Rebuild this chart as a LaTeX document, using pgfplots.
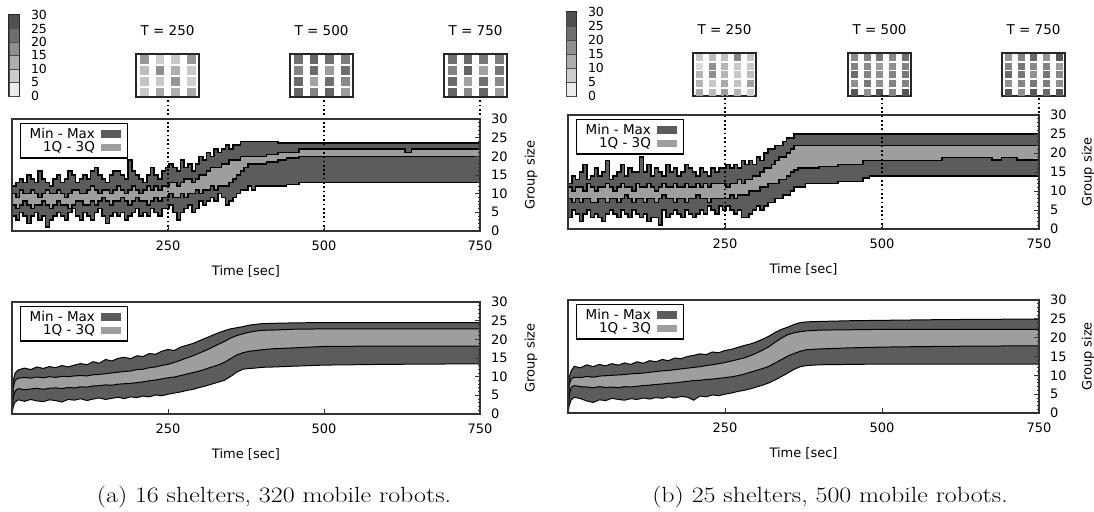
\documentclass[border=0pt]{standalone}
\usepackage{fontspec}
\usepackage{pgfplots}
\pgfplotsset{compat=1.18}
\usepackage{pgfplotstable}
\newfontfamily\dv{DejaVu Sans}
\definecolor{darkband}{gray}{0.36}
\definecolor{lightband}{gray}{0.62}

\pgfplotstableread{
t mn q1 q3 mx
0 4 7 10 12
6 3 6 9 13
12 5 7 11 14
18 4 8 10 13
24 2 7 10 15
30 4 6 11 14
36 5 7 10 13
42 3 7 9 16
48 4 8 10 14
54 1 7 11 13
60 3 6 10 12
66 4 7 10 14
72 5 8 11 15
78 4 7 10 13
84 3 7 9 14
90 5 6 10 16
96 6 7 11 15
102 4 8 11 13
108 3 8 10 14
114 5 7 10 15
120 4 7 11 14
126 3 8 12 16
132 5 7 11 17
138 6 8 10 15
144 4 9 11 14
150 2 8 11 13
156 4 7 10 15
162 5 8 11 16
168 4 8 12 16
174 5 9 11 15
180 3 8 10 14
186 4 7 11 19
192 5 8 12 16
198 6 9 11 15
204 4 8 10 14
210 5 8 11 13
216 4 7 12 15
222 6 8 11 17
228 5 9 12 15
234 4 8 11 14
240 6 9 12 16
246 6 9 12 17
252 7 10 13 18
258 5 9 13 17
264 3 9 12 16
270 5 10 13 19
276 6 9 14 17
282 7 10 14 18
288 5 10 13 16
294 6 11 14 18
300 8 10 15 20
306 7 11 15 19
312 8 11 16 21
318 9 12 17 20
324 8 11 17 22
330 10 12 17 21
336 9 12 18 22
342 7 12 18 23
348 8 13 19 22
354 9 14 19 23
360 10 15 19 23
366 11 16 20 24
372 11 17 20 24
378 12 18 20 24
384 11 18 20 24
390 12 18 20 24
408 12 18.5 20.5 24
426 12 19 21 23.5
440 12.5 19.5 21 23.5
460 13 20 22 23.5
630 13 20 21 23.5
640 13 20 22 23.5
750 13 20 22 23.5
}\topA

\pgfplotstableread{
t mn q1 q3 mx
0 3 8 11 12
6 5 7 10 14
12 4 8 11 13
18 2 7 11 15
24 4 8 10 17
30 5 8 12 13
36 3 7 11 14
42 4 7 10 16
48 3 8 11 14
54 2 8 11 15
60 4 7 12 18
66 5 8 11 13
72 4 8 10 14
78 3 7 11 15
84 5 8 12 17
90 4 9 11 14
96 3 8 11 16
102 5 7 10 15
108 4 8 12 15
114 3 8 11 19
120 4 7 11 15
126 2 8 12 17
132 3 8 11 14
138 3 7 10 16
144 1 8 11 15
150 5 9 12 14
156 3 8 11 17
162 4 8 11 15
168 5 7 12 16
174 4 8 11 14
180 3 8 11 15
186 5 7 12 17
192 4 8 11 16
198 3 8 11 15
204 4 9 12 14
210 5 8 11 16
216 4 8 12 15
222 6 7 11 14
228 5 8 12 16
234 4 8 12 15
240 6 8 12 16
246 5 8 12 16
252 6 8 11 17
258 5 9 12 16
264 4 8 12 17
270 5 9 13 16
276 3 9 12 18
282 3 9 13 17
288 4 10 13 18
294 5 10 14 17
300 6 10 14 19
306 5 11 15 18
312 6 11 16 20
318 7 12 16 21
324 7 12 17 21
330 8 12 18 22
336 8 13 19 22
342 9 13 19 23
348 9 14 20 24
354 10 15 21 24
360 11 15.5 22 25
366 11 16 22 25
378 12 16 22 25
400 12 16.5 22 25
430 12.5 17 22 25
470 13.5 18 22 25
480 14 18 22 25
596 14 18.8 22 25
675 14 18.2 22 25
690 14 18.8 22 25
715 14 18.2 22 25
750 14 18.2 22 25
}\topB

\pgfplotstableread{
t mn q1 q3 mx
0 0 0 0 0
2 2.0 4.5 7.0 9.0
5 3.2 6.2 9.0 11.0
10 3.8 6.8 9.6 11.8
20 3.4 6.5 9.8 12.3
30 3.9 6.7 9.6 11.9
40 3.5 6.9 9.9 12.6
50 3.3 6.6 9.7 12.2
60 3.8 6.9 10.0 12.7
70 3.6 7.0 9.8 12.4
80 3.2 6.8 10.1 13.0
90 3.9 7.1 10.0 12.6
100 3.7 7.0 10.2 13.1
110 4.1 7.3 10.3 13.5
120 3.6 7.2 10.2 13.2
130 4.0 7.5 10.5 14.0
140 4.3 7.6 10.6 13.6
150 3.9 7.8 10.8 14.6
160 4.2 7.7 11.0 14.2
170 4.5 8.0 11.2 14.9
180 4.1 8.1 11.4 15.2
190 4.6 8.2 11.5 14.8
200 4.4 8.4 11.9 15.6
210 4.8 8.6 12.0 15.4
220 4.6 8.9 12.4 16.2
230 5.1 9.1 12.6 16.0
240 4.9 9.4 13.0 16.8
250 5.3 9.7 13.3 17.3
260 5.6 9.9 13.8 17.0
270 5.9 10.3 14.4 17.9
280 6.3 10.7 15.0 18.4
290 6.6 11.1 15.6 18.9
300 7.1 11.5 16.3 19.6
310 7.5 12.0 17.0 20.3
320 8.0 12.6 17.8 21.0
330 8.5 13.1 18.6 21.7
340 9.0 13.8 19.4 22.3
350 10.0 14.8 20.3 22.8
360 11.2 15.8 21.0 23.1
370 12.0 16.4 21.5 23.4
380 12.2 16.8 21.9 23.8
390 12.3 17.0 22.2 24.0
400 12.5 17.2 22.4 24.2
420 12.6 17.5 22.5 24.3
450 12.8 17.7 22.7 24.4
500 13.1 18.1 22.8 24.5
600 13.3 18.2 22.8 24.5
700 13.4 18.2 22.8 24.5
750 13.4 18.2 22.8 24.5
}\botA

\pgfplotstableread{
t mn q1 q3 mx
0 0 0 0 0
2 2.0 4.8 7.5 9.5
5 3.5 6.8 9.0 11.2
10 4.2 7.3 9.5 12.4
20 3.8 7.0 9.4 12.0
30 3.2 6.9 9.7 12.8
40 2.8 6.7 9.5 12.3
50 3.5 7.0 9.8 12.9
60 3.3 6.8 9.9 12.5
70 3.9 6.9 10.0 13.1
80 3.6 6.7 10.1 12.7
90 3.4 7.0 10.2 13.3
100 3.8 6.9 10.4 12.9
110 3.6 7.1 10.5 13.6
120 4.0 7.3 10.6 13.2
130 3.7 7.4 10.8 13.9
140 4.1 7.6 11.0 13.6
150 3.9 7.7 11.2 14.2
160 4.3 7.9 11.3 13.9
170 4.0 8.0 11.5 14.6
180 4.4 8.2 11.7 14.4
190 4.2 8.4 11.9 15.0
200 3.4 8.6 12.1 15.3
210 4.5 8.7 12.3 15.7
220 4.3 8.9 12.6 15.5
230 4.8 9.0 12.8 16.2
240 4.6 9.2 13.1 16.0
250 5.0 9.4 13.4 16.6
260 5.3 9.6 13.8 16.9
270 5.7 9.9 14.2 17.4
280 6.0 10.3 14.6 17.9
290 6.4 10.8 15.2 18.3
300 6.9 11.3 15.9 18.9
310 7.4 11.8 16.7 19.6
320 8.0 12.4 17.6 20.4
330 8.8 13.3 18.8 21.4
340 9.7 14.2 19.9 22.2
350 10.6 15.1 20.8 22.8
360 11.6 15.8 21.3 23.5
370 12.3 16.4 21.6 24.0
380 12.6 16.8 21.8 24.2
400 12.8 17.0 22.0 24.3
450 12.9 17.3 22.1 24.5
500 13.0 17.5 22.2 24.6
600 13.0 17.7 22.2 24.8
700 13.0 17.8 22.2 24.9
750 13.0 17.8 22.2 24.9
}\botB

\pgfplotsset{
  band/.style={
    scale only axis, xmin=0, xmax=750, ymin=0, ymax=30,
    xtick={250,500,750}, ytick={0,5,10,15,20,25,30},
    xtick pos=left, ytick pos=right, yticklabel pos=right,
    tick align=inside, major tick length=5pt,
    minor y tick num=4, minor tick length=2pt,
    axis on top, clip=false,
    axis line style={black!80, line width=1.1pt},
    every tick/.style={black!80, line width=0.8pt},
    tick label style={font=\dv\fontsize{13}{14}\selectfont},
    /pgf/number format/assume math mode=true,
    xticklabel style={yshift=-6.5pt},
    yticklabel style={xshift=7.5pt},
    xlabel={Time [sec]}, ylabel={Group size},
    label style={font=\dv\fontsize{13}{14}\selectfont},
    xlabel style={at={(axis description cs:0.5,0)}, anchor=center, yshift=-40pt},
    legend style={at={(0,1)}, anchor=north west, xshift=8pt, yshift=-4pt,
      draw=black, line width=1.3pt, fill=white,
      font=\dv\fontsize{13.5}{15}\selectfont, inner xsep=7pt, inner ysep=2.5pt,
      row sep=-2pt, /tikz/column sep=4pt},
    legend cell align=right, legend plot pos=right,
  },
  gridax/.style={
    scale only axis, width=63pt, height=43pt,
    xtick=\empty, ytick=\empty,
    axis line style={black!85, line width=1.4pt},
    colormap={bw}{gray(0cm)=(0.98); gray(1cm)=(0.25)},
    point meta min=0, point meta max=30,
    title style={font=\dv\fontsize{13.5}{15}\selectfont, at={(0.5,1)}, anchor=base, yshift=13pt},
  },
  cbar/.style={
    scale only axis, width=10pt, xmin=-0.5, xmax=0.5, ymin=0, ymax=30,
    ybar stacked, bar width=10pt, xtick=\empty, ytick={0,5,10,15,20,25,30},
    ytick pos=right, yticklabel pos=right, major tick length=0pt,
    /pgf/number format/assume math mode=true,
    yticklabel style={font=\dv\fontsize{12.5}{12}\selectfont, xshift=8.5pt},
    axis line style={black!85, line width=1pt},
  },
  vdots/.style={black, line width=1.7pt, dash pattern=on 1.7pt off 2.6pt, forget plot},
  sq/.style={scatter, only marks, mark=square*, point meta=explicit,
    scatter/use mapped color={draw=mapped color, fill=mapped color}},
}

\newcommand{\bands}[3]{%
  \addplot[fill=darkband, draw=none, #2, forget plot] table[x=t,y=mx]{#1} \closedcycle;
  \addplot[fill=lightband, draw=none, #2, forget plot] table[x=t,y=q3]{#1} \closedcycle;
  \addplot[fill=darkband, draw=none, #2, forget plot] table[x=t,y=q1]{#1} \closedcycle;
  \addplot[fill=white, draw=none, #2, forget plot] table[x=t,y=mn]{#1} \closedcycle;
  \addplot[black, line width=#3, #2, forget plot] table[x=t,y=mx]{#1};
  \addplot[black, line width=#3, #2, forget plot] table[x=t,y=q3]{#1};
  \addplot[black, line width=#3, #2, forget plot] table[x=t,y=q1]{#1};
  \addplot[black, line width=#3, #2, forget plot] table[x=t,y=mn]{#1};
  \addlegendimage{legend image code/.code={\fill[darkband] (0cm,-0.11cm) rectangle (0.65cm,0.11cm);}}
  \addlegendentry{Min - Max}
  \addlegendimage{legend image code/.code={\fill[lightband] (0cm,-0.11cm) rectangle (0.65cm,0.11cm);}}
  \addlegendentry{1Q - 3Q}
}
\newcommand{\cbarfill}{%
  \addplot[fill=black!8, draw=black!70] coordinates {(0,5)};
  \addplot[fill=black!20, draw=black!70] coordinates {(0,5)};
  \addplot[fill=black!32, draw=black!70] coordinates {(0,5)};
  \addplot[fill=black!44, draw=black!70] coordinates {(0,5)};
  \addplot[fill=black!57, draw=black!70] coordinates {(0,5)};
  \addplot[fill=black!69, draw=black!70] coordinates {(0,5)};
}

\begin{document}
\begin{tikzpicture}
\path[use as bounding box] (0,0) rectangle (1094pt,-511pt);

% ---------------- panel (a) ----------------
\begin{axis}[cbar, at={(9pt,-96pt)}, anchor=south west, height=81pt]
\cbarfill
\end{axis}

\begin{axis}[gridax, at={(136pt,-97pt)}, anchor=south west, xmin=0.5, xmax=4.5, ymin=0.5, ymax=4.5, title={T = 250}]
\addplot[sq, mark size=3.9pt] coordinates {
(1,4)[16] (2,4)[7] (3,4)[8] (4,4)[16]
(1,3)[10] (2,3)[17] (3,3)[12] (4,3)[8]
(1,2)[9] (2,2)[8] (3,2)[16] (4,2)[7]
(1,1)[8] (2,1)[13] (3,1)[12] (4,1)[13]};
\end{axis}
\begin{axis}[gridax, at={(290pt,-97pt)}, anchor=south west, xmin=0.5, xmax=4.5, ymin=0.5, ymax=4.5, title={T = 500}]
\addplot[sq, mark size=3.9pt] coordinates {
(1,4)[22] (2,4)[24] (3,4)[22] (4,4)[20]
(1,3)[19] (2,3)[23] (3,3)[15] (4,3)[22]
(1,2)[23] (2,2)[14] (3,2)[22] (4,2)[18]
(1,1)[24] (2,1)[19] (3,1)[24] (4,1)[15]};
\end{axis}
\begin{axis}[gridax, at={(444pt,-97pt)}, anchor=south west, xmin=0.5, xmax=4.5, ymin=0.5, ymax=4.5, title={T = 750}]
\addplot[sq, mark size=3.9pt] coordinates {
(1,4)[22] (2,4)[23] (3,4)[21] (4,4)[20]
(1,3)[19] (2,3)[24] (3,3)[14] (4,3)[21]
(1,2)[23] (2,2)[14] (3,2)[22] (4,2)[18]
(1,1)[24] (2,1)[18] (3,1)[24] (4,1)[15]};
\end{axis}

\begin{axis}[band, at={(12pt,-231pt)}, anchor=south west, width=468pt, height=112pt,
  ylabel style={at={(axis description cs:1.109,0.5)}, anchor=center}]
\bands{\topA}{const plot}{1.6pt}
\addplot[vdots] coordinates {(250,0) (250,35.6)};
\addplot[vdots] coordinates {(500,0) (500,35.6)};
\addplot[vdots] coordinates {(750,0) (750,35.6)};
\end{axis}

\begin{axis}[band, at={(12pt,-414pt)}, anchor=south west, width=468pt, height=112pt,
  ylabel style={at={(axis description cs:1.109,0.5)}, anchor=center}]
\bands{\botA}{sharp plot}{1pt}
\end{axis}

\node[font=\fontsize{22}{26}\selectfont] at (274pt,-497pt) {\scalebox{1.18}[1]{(a) 16 shelters, 320 mobile robots.}};

% ---------------- panel (b) ----------------
\begin{axis}[cbar, at={(566pt,-96pt)}, anchor=south west, height=84pt]
\cbarfill
\end{axis}

\begin{axis}[gridax, at={(693pt,-96pt)}, anchor=south west, xmin=0.5, xmax=5.5, ymin=0.5, ymax=5.5, title={T = 250}]
\addplot[sq, mark size=3pt] coordinates {
(1,5)[8] (2,5)[10] (3,5)[9] (4,5)[18] (5,5)[8]
(1,4)[5] (2,4)[17] (3,4)[11] (4,4)[8] (5,4)[8]
(1,3)[11] (2,3)[17] (3,3)[11] (4,3)[8] (5,3)[10]
(1,2)[11] (2,2)[8] (3,2)[13] (4,2)[9] (5,2)[14]
(1,1)[13] (2,1)[10] (3,1)[15] (4,1)[11] (5,1)[7]};
\end{axis}
\begin{axis}[gridax, at={(848pt,-96pt)}, anchor=south west, xmin=0.5, xmax=5.5, ymin=0.5, ymax=5.5, title={T = 500}]
\addplot[sq, mark size=3pt] coordinates {
(1,5)[18] (2,5)[19] (3,5)[21] (4,5)[18] (5,5)[22]
(1,4)[19] (2,4)[18] (3,4)[15] (4,4)[17] (5,4)[19]
(1,3)[23] (2,3)[19] (3,3)[17] (4,3)[19] (5,3)[21]
(1,2)[17] (2,2)[21] (3,2)[17] (4,2)[19] (5,2)[19]
(1,1)[26] (2,1)[17] (3,1)[26] (4,1)[19] (5,1)[26]};
\end{axis}
\begin{axis}[gridax, at={(1002pt,-96pt)}, anchor=south west, xmin=0.5, xmax=5.5, ymin=0.5, ymax=5.5, title={T = 750}]
\addplot[sq, mark size=3pt] coordinates {
(1,5)[16] (2,5)[19] (3,5)[23] (4,5)[16] (5,5)[26]
(1,4)[19] (2,4)[21] (3,4)[18] (4,4)[19] (5,4)[15]
(1,3)[23] (2,3)[21] (3,3)[17] (4,3)[21] (5,3)[18]
(1,2)[17] (2,2)[19] (3,2)[21] (4,2)[20] (5,2)[17]
(1,1)[26] (2,1)[17] (3,1)[26] (4,1)[23] (5,1)[26]};
\end{axis}

\begin{axis}[band, at={(568pt,-229pt)}, anchor=south west, width=471pt, height=114pt,
  ylabel style={at={(axis description cs:1.104,0.5)}, anchor=center}]
\bands{\topB}{const plot}{1.6pt}
\addplot[vdots] coordinates {(250,0) (250,35.3)};
\addplot[vdots] coordinates {(500,0) (500,35.3)};
\addplot[vdots] coordinates {(750,0) (750,35.3)};
\end{axis}

\begin{axis}[band, at={(568pt,-413pt)}, anchor=south west, width=471pt, height=113pt,
  ylabel style={at={(axis description cs:1.104,0.5)}, anchor=center}]
\bands{\botB}{sharp plot}{1pt}
\end{axis}

\node[font=\fontsize{22}{26}\selectfont] at (830pt,-497pt) {\scalebox{1.18}[1]{(b) 25 shelters, 500 mobile robots.}};
\end{tikzpicture}
\end{document}
